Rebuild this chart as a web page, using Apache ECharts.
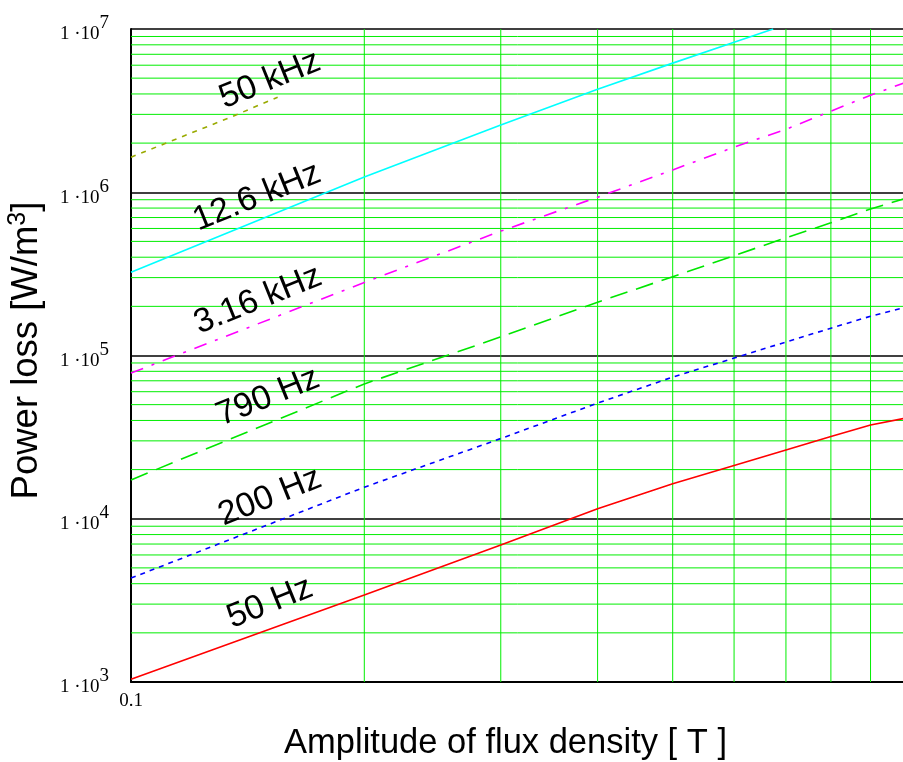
<!DOCTYPE html>
<html>
<head>
<meta charset="utf-8">
<script src="https://cdn.jsdelivr.net/npm/echarts@6/dist/echarts.min.js"></script>
<style>
html,body{margin:0;padding:0;background:#fff;}
#chart{width:903px;height:762px;}
</style>
</head>
<body>
<div id="chart"></div>
<script>
// ---- data ----
const fluxX = [0.1, 0.2, 0.3, 0.4, 0.5, 0.6, 0.7, 0.8, 0.9, 1.0];
const loss50Hz  = [1040, 3410, 6900, 11500, 16400, 21200, 26400, 31900, 37500, 41400];
const loss200Hz = [4330, 15600, 31000, 51100, 73800, 96400, 121000, 147000, 174000, 198000];
const loss790Hz = [17300, 67000, 130000, 212000, 304000, 409000, 526000, 650000, 790000, 920000];
const loss3k16  = [78000, 280000, 578000, 933000, 1370000, 1890000, 2430000, 3140000, 3930000, 4720000];
const flux12k6  = [0.1, 0.2, 0.3, 0.4, 0.5, 0.6, 0.674];
const loss12k6  = [324000, 1240000, 2580000, 4280000, 6180000, 8300000, 10000000];
const flux50k   = [0.1, 0.1344, 0.1546];
const loss50k   = [1640000, 2880000, 3820000];

const seriesNames = ['50 Hz', '200 Hz', '790 Hz', '3.16 kHz', '12.6 kHz', '50 kHz'];
const xMinorGrid = [0.2, 0.3, 0.4, 0.5, 0.6, 0.7, 0.8, 0.9];
const yDecades = [1e3, 1e4, 1e5, 1e6];
const yMultipliers = [2, 3, 4, 5, 6, 7, 8, 9];

const xTitle = 'Amplitude of flux density [ T ]';
const yTitle = 'Power loss [W/m{s|3}]';

function pairs(xs, ys) { return xs.map((x, i) => [x, ys[i]]); }

const yMinorGrid = [];
yDecades.forEach(d => yMultipliers.forEach(m => yMinorGrid.push(d * m)));

const X_MIN = 0.1, X_MAX = 1, Y_MIN = 1e3, Y_MAX = 1e7;

const chart = echarts.init(document.getElementById('chart'), null, {renderer: 'canvas'});

const gridGreen = '#00ee00';

function lineSeries(name, data, color, type, width) {
  return {
    name: name, type: 'line', data: data, showSymbol: false, symbol: 'none',
    z: 5, silent: true,
    lineStyle: {color: color, width: width || 1.6, type: type}
  };
}

function gridSeries(name, data, horizontal) {
  return {
    name: name, type: 'custom', z: 1, silent: true, clip: true,
    data: data,
    renderItem: function (params, api) {
      let p1, p2;
      if (horizontal) {
        const v = api.value(1);
        p1 = api.coord([X_MIN, v]); p2 = api.coord([X_MAX, v]);
      } else {
        const v = api.value(0);
        p1 = api.coord([v, Y_MIN]); p2 = api.coord([v, Y_MAX]);
      }
      return {
        type: 'line',
        shape: {x1: p1[0], y1: p1[1], x2: p2[0], y2: p2[1]},
        style: {stroke: gridGreen, lineWidth: 1}
      };
    }
  };
}

const option = {
  animation: false,
  backgroundColor: '#fff',
  grid: {left: 131, top: 29, width: 775, height: 653, containLabel: false, outerBoundsMode: 'none'},
  xAxis: {
    type: 'log', logBase: 10, min: X_MIN, max: X_MAX,
    name: xTitle, nameLocation: 'middle', nameGap: 44,
    nameTextStyle: {fontFamily: 'Liberation Sans', fontSize: 34.5, color: '#000', padding: [0, 26, 0, 0]},
    axisLine: {show: true, lineStyle: {color: '#000', width: 2}},
    axisTick: {show: false},
    splitLine: {show: false},
    axisLabel: {
      show: true, margin: 10,
      fontFamily: 'Liberation Serif', fontSize: 19, color: '#000',
      formatter: v => (Math.abs(v - 0.1) < 1e-6 ? '0.1' : ''),
      showMaxLabel: false
    }
  },
  yAxis: {
    type: 'log', logBase: 10, min: Y_MIN, max: Y_MAX,
    name: yTitle, nameLocation: 'middle', nameGap: 84, nameRotate: 90,
    nameTextStyle: {fontFamily: 'Liberation Sans', fontSize: 36.5, color: '#000', padding: [0, 0, 0, 10],
      rich: {s: {fontFamily: 'Liberation Sans', fontSize: 25, color: '#000', verticalAlign: 'top', padding: [0, 0, 16, 0]}}},
    axisLine: {show: true, lineStyle: {color: '#000', width: 2}},
    axisTick: {show: false},
    splitLine: {show: true, lineStyle: {color: '#000', width: 1.5}},
    axisLabel: {
      margin: 22,
      formatter: v => '{a|1 \u00b710}{s|' + Math.round(Math.log10(v)) + '}',
      rich: {
        a: {fontFamily: 'Liberation Serif', fontSize: 19, color: '#000', lineHeight: 30, verticalAlign: 'bottom'},
        s: {fontFamily: 'Liberation Serif', fontSize: 19, color: '#000', lineHeight: 30, verticalAlign: 'top'}
      }
    }
  },
  series: [
    gridSeries('hgrid', yMinorGrid.map(v => [X_MIN, v]), true),
    gridSeries('vgrid', xMinorGrid.map(v => [v, Y_MIN]), false),
    lineSeries(seriesNames[0], pairs(fluxX, loss50Hz), '#ff0000', 'solid', 1.6),
    lineSeries(seriesNames[1], pairs(fluxX, loss200Hz), '#0000ff', [5, 5], 1.6),
    lineSeries(seriesNames[2], pairs(fluxX, loss790Hz), '#00e600', [18, 9], 1.6),
    lineSeries(seriesNames[3], pairs(fluxX, loss3k16), '#ff00ff', [13, 9, 3, 9], 1.6),
    lineSeries(seriesNames[4], pairs(flux12k6, loss12k6), '#00ffff', 'solid', 1.6),
    lineSeries(seriesNames[5], pairs(flux50k, loss50k), '#99aa00', [5, 6], 1.6)
  ],
  graphic: []
};

// series labels (rotated text annotations)
const labelPos = [[270, 603], [270, 497], [268, 397], [258, 300], [257, 197], [270, 80]];
const rot = 22 * Math.PI / 180;
option.graphic = seriesNames.map((t, i) => ({
  type: 'text', x: labelPos[i][0], y: labelPos[i][1], rotation: rot, z: 100,
  style: {text: t, fontFamily: 'Liberation Sans', fontSize: 34, fill: '#000', align: 'center', verticalAlign: 'middle'}
}));

chart.setOption(option);
</script>
</body>
</html>
